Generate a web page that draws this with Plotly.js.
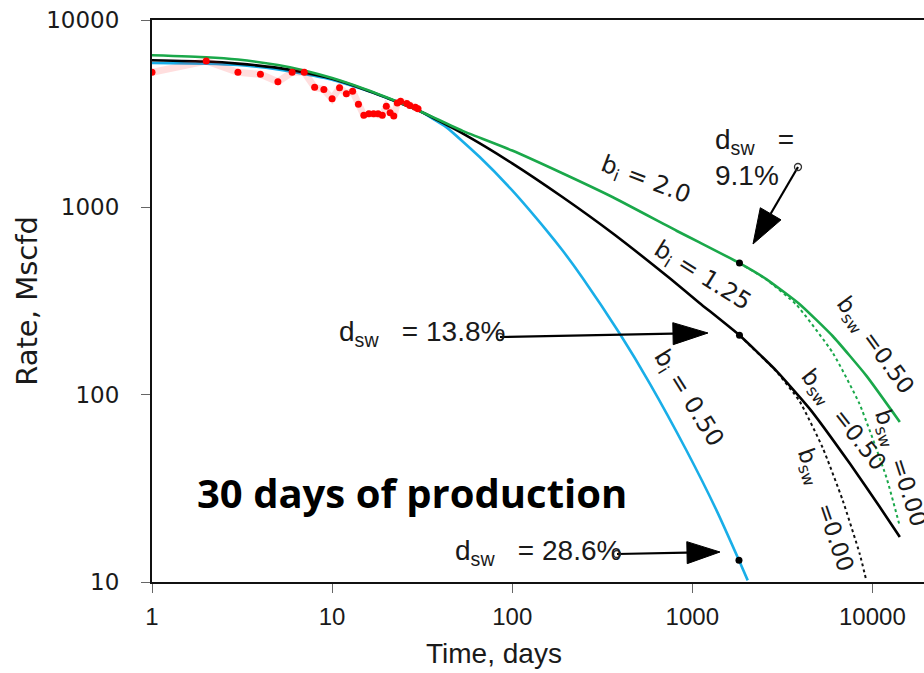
<!DOCTYPE html>
<html>
<head>
<meta charset="utf-8">
<script src="https://cdn.plot.ly/plotly-3.0.1.min.js"></script>
<style>html,body{margin:0;padding:0;background:#fff;}#chart{width:924px;height:673px;}</style>
</head>
<body>
<div id="chart"></div>
<script>
// ---- Production data (30 days) ----
const prodDays = [1,2,3,4,5,6,7,8,9,10,11,12,13,14,15,16,17,18,19,20,21,22,23,24,26,27,29,30];
const prodRate = [5260,6040,5260,5130,4680,5260,5260,4370,4260,3800,4350,4040,4170,3550,3100,3160,3160,3160,3100,3460,3200,3070,3600,3680,3580,3500,3420,3360];

// ---- b_i = 2.0 (green), switching to b_sw = 0.50 ----
const greenT = [1,2,3,5,7,10,15,20,30,53,100,190,360,817,1096,1828,2575,3948,6030,9270,14200];
const greenQ = [6480,6330,6150,5750,5380,4900,4300,3870,3300,2560,2010,1520,1135,750,650,504,414,304,205,126,71.5];
// green b_sw = 0.00 (dotted)
const greenDotT = [1828,2575,3785,6030,8490,11960,14200];
const greenDotQ = [504,412,302,167,89,36.2,19.8];

// ---- b_i = 1.25 (black), switching to b_sw = 0.50 ----
const blackT = [1,2,3,5,7,10,15,20,30,53,100,190,361,750,1096,1828,2930,4490,7480,10970,14200];
const blackQ = [6100,6000,5850,5550,5250,4850,4270,3850,3300,2480,1717,1135,727,418,309,207.5,134,84,43,25.2,17.4];
// black b_sw = 0.00 (dotted)
const blackDotT = [1828,2930,3948,5300,6840,8490,9270];
const blackDotQ = [207.5,133,92,52,27.3,14.2,10.1];

// ---- b_i = 0.50 (blue) ----
const blueT = [1,2,3,5,7,10,15,20,30,43,66,100,155,190,246,395,580,927,1361,1816,2031];
const blueQ = [5900,5850,5750,5450,5150,4800,4250,3850,3300,2680,1855,1232,754,590,420,212,115,50.5,24.2,13.07,10.2];

// ---- switch points ----
const switchT = [1828,1828,1816];
const switchQ = [504,207.5,13.07];

// ---- ticks ----
const xTicks = [1,10,100,1000,10000];
const xTickText = ['1','10','100','1000','10000'];
const yTicks = [10,100,1000,10000];
const yTickText = ['10','100','1000','10000'];

// plot-area geometry helpers (pixel -> axis / paper coordinates for labels)
const L = 152, T = 20, W = 772, H = 562;
const XR = [0, 4.2865], YR = [1, 4];
const ax = px => XR[0] + (px - L) / W * (XR[1] - XR[0]);
const ay = py => YR[1] - (py - T) / H * (YR[1] - YR[0]);
const pxp = px => (px - L) / W;
const pyp = py => (T + H - py) / H;

const sm = 0.45;
const traces = [
  {x: blueT, y: blueQ, mode: 'lines', line: {color: '#19aee8', width: 2.6, shape: 'spline', smoothing: sm}},
  {x: blackDotT, y: blackDotQ, mode: 'lines', line: {color: '#111', width: 2, dash: 'dot', shape: 'spline', smoothing: sm}},
  {x: greenDotT, y: greenDotQ, mode: 'lines', line: {color: '#1aa84a', width: 2, dash: 'dot', shape: 'spline', smoothing: sm}},
  {x: blackT, y: blackQ, mode: 'lines', line: {color: '#000', width: 2.6, shape: 'spline', smoothing: sm}},
  {x: greenT, y: greenQ, mode: 'lines', line: {color: '#1aa84a', width: 2.6, shape: 'spline', smoothing: sm}},
  {x: prodDays, y: prodRate, mode: 'lines', line: {color: 'rgba(255,0,0,0.13)', width: 7}},
  {x: prodDays, y: prodRate, mode: 'markers', marker: {color: '#ff0000', size: 7}},
  {x: switchT, y: switchQ, mode: 'markers', marker: {color: '#000', size: 7}}
];

const bFont = {family: 'DejaVu Sans, Verdana, sans-serif', size: 24, color: '#1a1a1a'};
const bswFont = {family: 'DejaVu Sans, Verdana, sans-serif', size: 23, color: '#1a1a1a'};
const dFont = {family: 'Liberation Sans, Arial, sans-serif', size: 28, color: '#1a1a1a'};
const nb = '\u00a0';

const annotations = [
  {x: ax(645), y: ay(180), text: 'b<sub>i</sub> = 2.0', textangle: 21, font: bFont, showarrow: false},
  {x: ax(702), y: ay(276), text: 'b<sub>i</sub> = 1.25', textangle: 32, font: bFont, showarrow: false},
  {x: ax(688), y: ay(398), text: 'b<sub>i</sub> = 0.50', textangle: 58, font: bFont, showarrow: false},
  {x: ax(874), y: ay(346), text: 'b<sub>sw</sub> =0.50', textangle: 54, font: bswFont, showarrow: false},
  {x: ax(842), y: ay(420), text: 'b<sub>sw</sub>' + nb + ' =0.50', textangle: 52, font: bswFont, showarrow: false},
  {x: ax(899), y: ay(468), text: 'b<sub>sw</sub>' + nb + ' =0.00', textangle: 72, font: bswFont, showarrow: false},
  {x: ax(824), y: ay(510), text: 'b<sub>sw</sub>' + nb + nb + ' =0.00', textangle: 71, font: bswFont, showarrow: false},
  {x: ax(337), y: ay(333), xanchor: 'left', text: 'd<sub>sw</sub>' + nb + nb + nb + '= 13.8%', font: dFont, showarrow: false},
  {x: ax(453), y: ay(552), xanchor: 'left', text: 'd<sub>sw</sub>' + nb + nb + nb + '= 28.6%', font: dFont, showarrow: false},
  {x: ax(713), y: ay(157), xanchor: 'left', align: 'left', text: 'd<sub>sw</sub>' + nb + nb + nb + '=<br>9.1%', font: dFont, showarrow: false},
  {x: ax(412), y: ay(492), text: '<b>30 days of production</b>', font: {family: 'Open Sans, sans-serif', size: 40, color: '#000'}, showarrow: false},
  {xref: 'paper', yref: 'paper', x: pxp(494), y: pyp(653), xanchor: 'center', yanchor: 'middle', text: 'Time, days', font: {family: 'Liberation Sans, Arial, sans-serif', size: 28, color: '#1a1a1a'}, showarrow: false}
];

function arrowShapes(tail, tip, headLen, headHalf) {
  const dx = tip[0] - tail[0], dy = tip[1] - tail[1];
  const len = Math.hypot(dx, dy);
  const ux = dx / len, uy = dy / len;
  const bx = tip[0] - headLen * ux, by = tip[1] - headLen * uy;
  const c1 = [bx - headHalf * uy, by + headHalf * ux];
  const c2 = [bx + headHalf * uy, by - headHalf * ux];
  return [
    {type: 'line', xref: 'paper', yref: 'paper', x0: pxp(tail[0]), y0: pyp(tail[1]), x1: pxp(bx), y1: pyp(by), line: {color: '#000', width: 2.2}},
    {type: 'path', xref: 'paper', yref: 'paper', path: `M${pxp(tip[0])},${pyp(tip[1])} L${pxp(c1[0])},${pyp(c1[1])} L${pxp(c2[0])},${pyp(c2[1])} Z`, fillcolor: '#000', line: {color: '#000', width: 1}},
    {type: 'circle', xref: 'paper', yref: 'paper', x0: pxp(tail[0] - 3.5), x1: pxp(tail[0] + 3.5), y0: pyp(tail[1] + 3.5), y1: pyp(tail[1] - 3.5), line: {color: '#333', width: 1.3}, fillcolor: 'rgba(0,0,0,0)'}
  ];
}

const shapes = [].concat(
  arrowShapes([500, 337], [708, 333], 35, 11),
  arrowShapes([617, 554], [720, 552], 33, 11),
  arrowShapes([798, 167], [753, 244], 35, 12)
);

const layout = {
  width: 924, height: 673,
  margin: {l: L, r: 924 - L - W, t: T, b: 673 - T - H, pad: 0},
  paper_bgcolor: '#fff', plot_bgcolor: '#fff',
  showlegend: false,
  xaxis: {
    type: 'log', range: XR, tickmode: 'array', tickvals: xTicks, ticktext: xTickText,
    ticks: 'outside', ticklen: 9, tickwidth: 1, tickcolor: '#666',
    showline: true, linecolor: '#111', linewidth: 2, mirror: true,
    showgrid: false, zeroline: false,
    tickfont: {family: 'Liberation Sans, Arial, sans-serif', size: 24, color: '#1a1a1a'},
    ticklabelstandoff: 3
  },
  yaxis: {
    type: 'log', range: YR, tickmode: 'array', tickvals: yTicks, ticktext: yTickText,
    ticks: 'outside', ticklen: 9, tickwidth: 1, tickcolor: '#666',
    showline: true, linecolor: '#111', linewidth: 2, mirror: false,
    showgrid: false, zeroline: false,
    tickfont: {family: 'DejaVu Sans, Verdana, sans-serif', size: 23, color: '#1a1a1a'},
    ticklabelstandoff: 17,
    title: {text: 'Rate, Mscfd', font: {family: 'DejaVu Sans, Verdana, sans-serif', size: 29, color: '#1a1a1a'}, standoff: 0}
  },
  annotations: annotations,
  shapes: shapes
};

Plotly.newPlot('chart', traces, layout, {staticPlot: true, displayModeBar: false});
</script>
</body>
</html>
